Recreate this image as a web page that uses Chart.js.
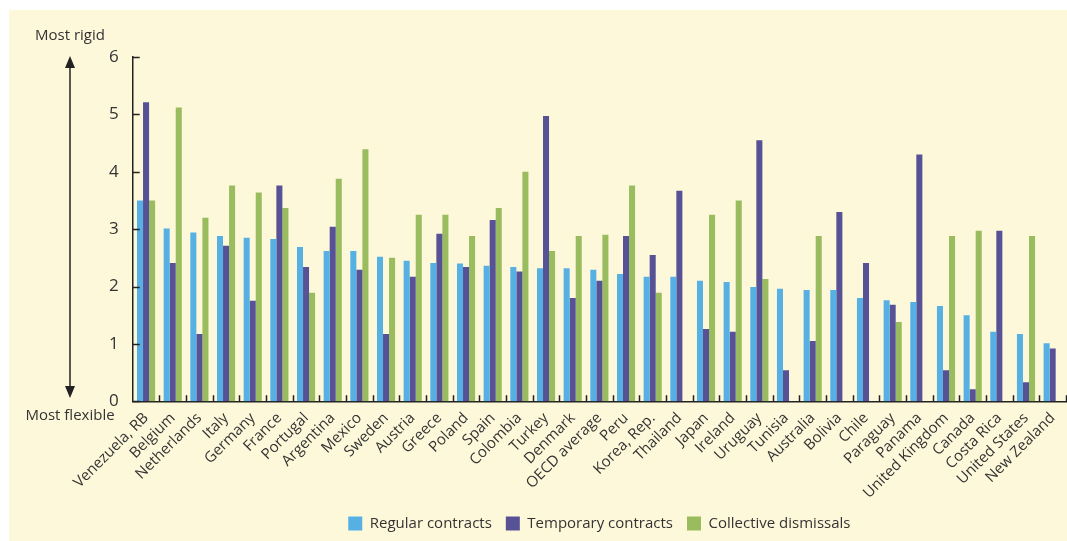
<!DOCTYPE html>
<html>
<head>
<meta charset="utf-8">
<script src="https://cdn.jsdelivr.net/npm/chart.js@4"></script>
<style>
  html, body { margin: 0; padding: 0; background: #ffffff; }
  #wrap { width: 1067px; height: 541px; position: relative; }
</style>
</head>
<body>
<div id="wrap"><canvas id="chart"></canvas></div>
<script>
// countries, ordered by regular contracts index
const countries = ['Venezuela, RB', 'Belgium', 'Netherlands', 'Italy', 'Germany', 'France', 'Portugal',
    'Argentina', 'Mexico', 'Sweden', 'Austria', 'Greece', 'Poland', 'Spain', 'Colombia', 'Turkey',
    'Denmark', 'OECD average', 'Peru', 'Korea, Rep.', 'Thailand', 'Japan', 'Ireland', 'Uruguay',
    'Tunisia', 'Australia', 'Bolivia', 'Chile', 'Paraguay', 'Panama', 'United Kingdom', 'Canada',
    'Costa Rica', 'United States', 'New Zealand'];

const regular = [3.50, 3.01, 2.94, 2.88, 2.85, 2.83, 2.69, 2.62, 2.62, 2.52, 2.45, 2.41, 2.40, 2.36,
    2.34, 2.32, 2.32, 2.29, 2.22, 2.17, 2.17, 2.10, 2.08, 1.99, 1.96, 1.94, 1.94, 1.80, 1.76, 1.73,
    1.66, 1.50, 1.21, 1.17, 1.01];

const temporary = [5.21, 2.41, 1.17, 2.71, 1.75, 3.76, 2.34, 3.04, 2.29, 1.17, 2.17, 2.92, 2.34, 3.16,
    2.26, 4.97, 1.80, 2.10, 2.88, 2.55, 3.67, 1.26, 1.21, 4.55, 0.54, 1.05, 3.30, 2.41, 1.68, 4.30,
    0.54, 0.21, 2.97, 0.33, 0.92];

// no value for some countries
const collective = [3.50, 5.12, 3.20, 3.76, 3.64, 3.37, 1.89, 3.88, 4.39, 2.50, 3.25, 3.25, 2.88, 3.37,
    4.00, 2.62, 2.88, 2.90, 3.76, 1.89, null, 3.25, 3.50, 2.13, null, 2.88, null, null, 1.38, null,
    2.88, 2.97, null, 2.88, null];

const yTicks = [0, 1, 2, 3, 4, 5, 6];

const textColor = '#333333';
const fontFam = '"Open Sans", "Noto Sans", sans-serif';

// fond crème, petites graduations vers l'intérieur et flèche à gauche
const decorPlugin = {
    id: 'decor',
    beforeDraw(chart) {
        const ctx = chart.ctx;
        ctx.save();
        ctx.fillStyle = '#fef8da';
        ctx.fillRect(9, 10, chart.width - 9, chart.height - 10);
        ctx.restore();
    },
    afterDraw(chart) {
        const ctx = chart.ctx;
        const x = chart.scales.x, y = chart.scales.y;
        const area = chart.chartArea;
        ctx.save();
        ctx.strokeStyle = '#222';
        ctx.lineWidth = 1.5;
        ctx.beginPath();
        yTicks.forEach(v => {
            const py = Math.round(y.getPixelForValue(v)) + 0.5;
            ctx.moveTo(area.left, py);
            ctx.lineTo(area.left + 7, py);
        });
        const n = countries.length;
        for (let i = 1; i <= n; i++) {
            const px = Math.round((x.getPixelForValue(i - 1) + (i < n ? x.getPixelForValue(i) : x.getPixelForValue(i - 1) * 2 - x.getPixelForValue(i - 2))) / 2) + 0.5;
            ctx.moveTo(px, area.bottom);
            ctx.lineTo(px, area.bottom - 6);
        }
        ctx.stroke();

        // double arrow
        const ax = 70, top = 56, bot = 398;
        ctx.strokeStyle = '#222';
        ctx.fillStyle = '#222';
        ctx.lineWidth = 1.5;
        ctx.beginPath();
        ctx.moveTo(ax, top + 8);
        ctx.lineTo(ax, bot - 8);
        ctx.stroke();
        ctx.beginPath();
        ctx.moveTo(ax, top);
        ctx.lineTo(ax - 5, top + 12);
        ctx.lineTo(ax + 5, top + 12);
        ctx.closePath();
        ctx.fill();
        ctx.beginPath();
        ctx.moveTo(ax, bot);
        ctx.lineTo(ax - 5, bot - 12);
        ctx.lineTo(ax + 5, bot - 12);
        ctx.closePath();
        ctx.fill();

        ctx.font = '15px ' + fontFam;
        ctx.fillStyle = textColor;
        ctx.textAlign = 'center';
        ctx.textBaseline = 'middle';
        ctx.fillText('Most rigid', ax, 36);
        ctx.fillText('Most flexible', ax, 416);
        ctx.restore();
    }
};

new Chart(document.getElementById('chart'), {
    type: 'bar',
    data: {
        labels: countries,
        datasets: [
            { label: 'Regular contracts', data: regular, backgroundColor: '#57b0e3' },
            { label: 'Temporary contracts', data: temporary, backgroundColor: '#575296' },
            { label: 'Collective dismissals', data: collective, backgroundColor: '#99bc5f' }
        ]
    },
    options: {
        responsive: true,
        maintainAspectRatio: false,
        animation: false,
        layout: { padding: { left: 103, right: 1, top: 57, bottom: 0 } },
        datasets: { bar: { barPercentage: 1.0, categoryPercentage: 0.68 } },
        plugins: {
            legend: {
                position: 'bottom',
                fullSize: false,
                labels: {
                    boxWidth: 14, boxHeight: 14, padding: 14,
                    color: textColor,
                    font: { family: fontFam, size: 15 }
                }
            },
            tooltip: { enabled: false }
        },
        scales: {
            x: {
                grid: { display: false },
                border: { display: true, color: '#222', width: 1.5 },
                ticks: {
                    color: textColor,
                    minRotation: 45, maxRotation: 45,
                    autoSkip: false,
                    padding: 0,
                    font: { family: fontFam, size: 15 }
                }
            },
            y: {
                min: 0, max: 6,
                grid: { display: false },
                border: { display: true, color: '#222', width: 1.5 },
                ticks: {
                    stepSize: 1,
                    color: textColor,
                    padding: 6,
                    font: { family: fontFam, size: 17 }
                }
            }
        }
    },
    plugins: [decorPlugin]
});
</script>
</body>
</html>
